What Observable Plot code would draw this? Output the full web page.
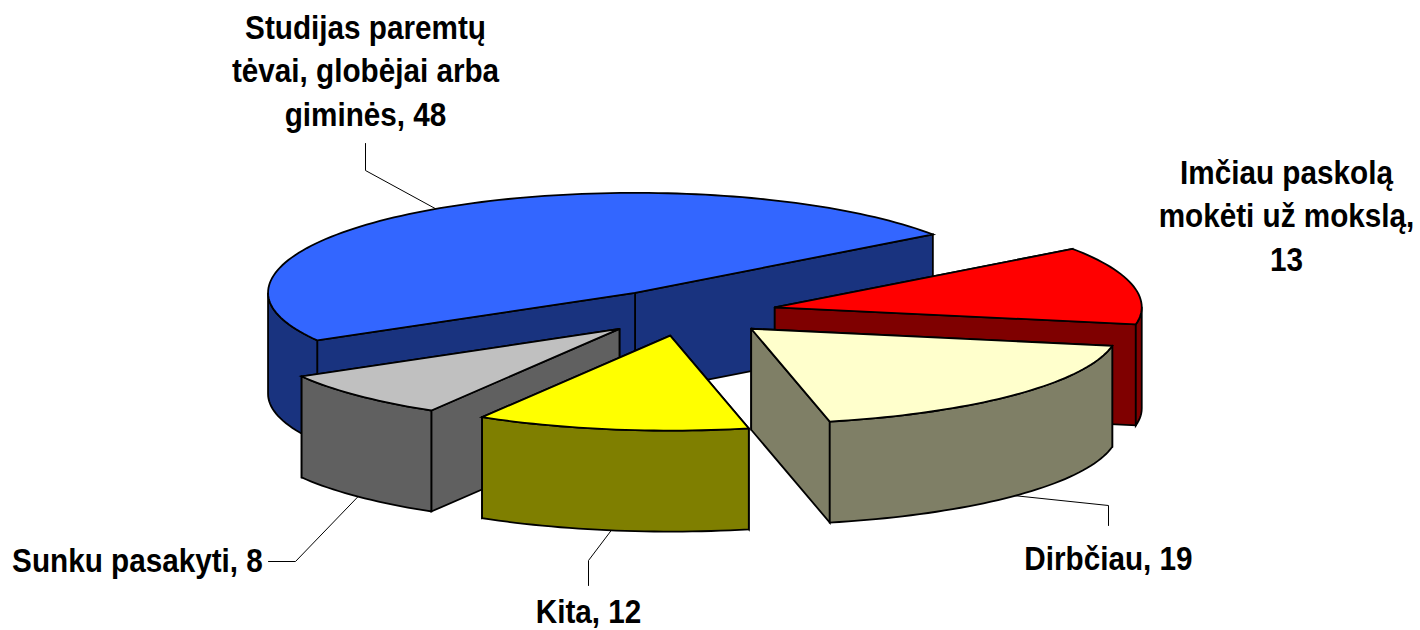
<!DOCTYPE html>
<html><head><meta charset="utf-8">
<style>html,body{margin:0;padding:0;background:#fff}svg{display:block}</style>
<script src="https://cdn.jsdelivr.net/npm/d3@7"></script>
<script src="https://cdn.jsdelivr.net/npm/@observablehq/plot@0.6"></script>
</head><body><div id="chart"></div>
<script>
// Printed labels (the last line gets its printed value appended)
const labelLines = [
  ["Studijas paremtų", "tėvai, globėjai arba", "giminės, "],
  ["Imčiau paskolą", "mokėti už mokslą,", ""],
  ["Dirbčiau, "],
  ["Kita, "],
  ["Sunku pasakyti, "]
];
const values = [48, 13, 19, 12, 8];
// Slice sizes as measured on the rim of the picture (the printed labels are rounded)
const shares = [48.4, 12.8, 18.7, 12, 8.1];
const topColors = ["#3366FF", "#FF0000", "#FFFFCC", "#FFFF00", "#C0C0C0"];
const sideColors = ["#19337F", "#7F0000", "#7F7F66", "#7F7F00", "#606060"];

// Layout of the projected pie (page pixels on the identity scales)
const W = 1420, H = 630;
const cx = 684.5, cy = 312, rx = 367, ryBack = 100, ryFront = 95, depth = 101;
const explodeX = 92, explodeY = 23.4;
const startDeg = 150;
const labelPos = [[365, 28], [1286, 173], [1108, 559], [588, 612], [137, 561]];
const elbows = [[[365, 170], [365, 143]], null, [[1108, 505], [1108, 525]], [[588, 560], [588, 585]], [[295, 561], [268, 561]]];
const lineHeight = 43.3, fontSize = 33, squeeze = 0.9;

const rad = d => d * Math.PI / 180;
const total = d3.sum(shares);
let acc = startDeg;
const slices = shares.map((v, i) => {
  const a0 = acc, a1 = acc + v / total * 360;
  acc = a1;
  const mid = (a0 + a1) / 2;
  const vx = cx + explodeX * Math.cos(rad(mid)), vy = cy + explodeY * Math.sin(rad(mid));
  const at = (a, dz = 0) => {
    const s = Math.sin(rad(a));
    return {x: vx + rx * Math.cos(rad(a)), y: vy + (s > 0 ? ryFront : ryBack) * s + dz};
  };
  return {i, a0, a1, mid, vx, vy, at};
});
const arc = (s, from, to, dz = 0) => {
  const n = Math.max(2, Math.ceil(Math.abs(to - from) / 1.5));
  return d3.range(n + 1).map(k => s.at(from + (to - from) * k / n, dz));
};
const closed = p => [...p, p[0]];
const poly = (p, fill, strokeWidth = 1.8) => Plot.line(closed(p), {x: "x", y: "y", fill, stroke: "#000", strokeWidth, strokeLinejoin: "miter", strokeMiterlimit: 6});

function sliceMarks(s) {
  const side = sideColors[s.i], V = {x: s.vx, y: s.vy}, Vb = {x: s.vx, y: s.vy + depth};
  const marks = [];
  // radial faces: the one whose rim end is lower on the page is painted last
  const faces = [s.a0, s.a1].sort((p, q) => s.at(p).y - s.at(q).y);
  for (const a of faces) marks.push(poly([V, s.at(a), s.at(a, depth), Vb], side));
  // outer wall: only the part of the rim that faces the viewer
  for (const [lo, hi] of [[0, 180], [360, 540]]) {
    const from = Math.max(s.a0, lo), to = Math.min(s.a1, hi);
    if (to > from) marks.push(poly([...arc(s, from, to), ...arc(s, to, from, depth)], side));
  }
  marks.push(poly([V, ...arc(s, s.a0, s.a1)], topColors[s.i]));
  return marks;
}

// Leader lines start on the rim at each slice's middle angle
const leaders = slices.flatMap(s => {
  const e = elbows[s.i];
  if (!e) return [];
  const dz = Math.sin(rad(s.mid)) > 0 ? depth : 0;
  return [Plot.line([s.at(s.mid, dz), ...e.map(([x, y]) => ({x, y}))], {x: "x", y: "y", stroke: "#000", strokeWidth: 1})];
});

const textRows = labelLines.flatMap((lines, i) => lines.map((t, k) => ({
  t: k === lines.length - 1 ? t + values[i] : t,
  x: labelPos[i][0],
  y: labelPos[i][1] + k * lineHeight
})));
const paintOrder = [0, 1, 4, 2, 3];

const chart = Plot.plot({
  width: W, height: H, margin: 0,
  x: {domain: [0, W], range: [0, W], axis: null},
  y: {domain: [0, H], range: [0, H], axis: null},
  marks: [
    ...leaders,
    ...paintOrder.flatMap(i => sliceMarks(slices[i])),
    Plot.text(textRows, {x: "x", y: "y", text: "t", fontFamily: "Liberation Sans, Arial, sans-serif", fontWeight: "bold", fontSize, fill: "#000"})
  ]
});
document.getElementById("chart").append(chart);
chart.querySelectorAll("text").forEach(el => {
  el.setAttribute("transform", `${el.getAttribute("transform") || ""} scale(${squeeze},1)`);
});
</script></body></html>
